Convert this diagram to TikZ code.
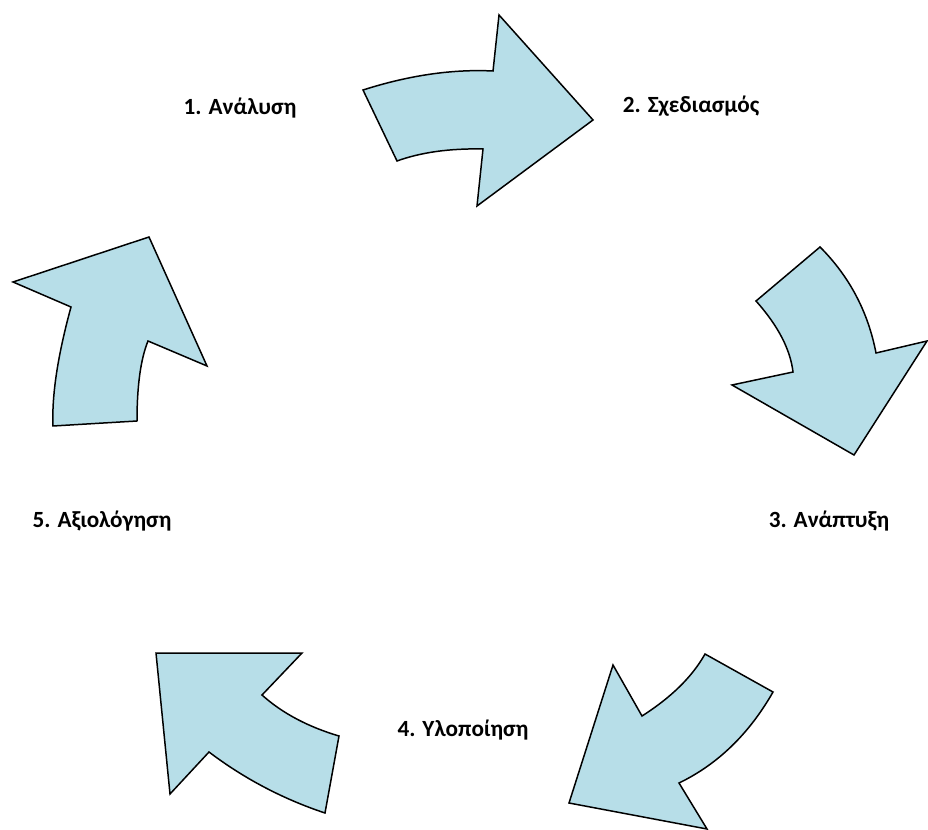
\documentclass[tikz,border=0pt]{standalone}
\usepackage{fontspec}
\setmainfont{Carlito}
\usepackage{tikz}
\definecolor{cycleaqua}{HTML}{B7DEE8}
\tikzset{
    cyclearrow/.style={draw=black,fill=cycleaqua,line width=0.85pt,line join=miter},
    phase/.style={anchor=base,inner sep=0pt,font=\fontsize{13.2}{15}\selectfont\bfseries},
}

\begin{document}
\begin{tikzpicture}[x=0.02cm,y=-0.02cm]
    \useasboundingbox (0,0) rectangle (928,830);

    % phase labels
    \node[phase] (analysis) at (240,115) {1. Ανάλυση};
    \node[phase] (design) at (691,113) {2. Σχεδιασμός};
    \node[phase] (develop) at (829,527) {3. Ανάπτυξη};
    \node[phase] (implement) at (463,736) {4. Υλοποίηση};
    \node[phase] (evaluate) at (102,527) {5. Αξιολόγηση};

    % curved arrows between the phases
    \draw[cyclearrow] (363,90) .. controls (409,75.3) and (452.3,69) .. (493,71)
        -- (499,15) -- (593,120) -- (477,206) -- (483,149)
        .. controls (449.7,148.3) and (421,152.3) .. (397,161) -- cycle;
    \draw[cyclearrow] (820,247) .. controls (849.3,276.3) and (868,311.7) .. (876,353)
        -- (927,341) -- (854,455) -- (732,385) -- (793,372)
        .. controls (790.3,349.3) and (778,325.7) .. (756,301) -- cycle;
    \draw[cyclearrow] (705,654) -- (773,692)
        .. controls (749,734) and (717.7,764.3) .. (679,783)
        -- (707,829) -- (569,803) -- (613,665) -- (642,716)
        .. controls (671.3,697.3) and (692.3,676.7) .. (705,654) -- cycle;
    \draw[cyclearrow] (156,653) -- (302,653) -- (262,695)
        .. controls (282,713) and (307.7,726.7) .. (339,736) -- (325,813)
        .. controls (283,799) and (244.3,778.7) .. (209,752) -- (170,794) -- cycle;
    \draw[cyclearrow] (149,237) -- (207,366) -- (148,341)
        .. controls (140.7,359) and (137,385.7) .. (137,421) -- (53,426)
        .. controls (51.7,395.3) and (57.7,355.7) .. (71,307) -- (13,282) -- cycle;
\end{tikzpicture}
\end{document}
